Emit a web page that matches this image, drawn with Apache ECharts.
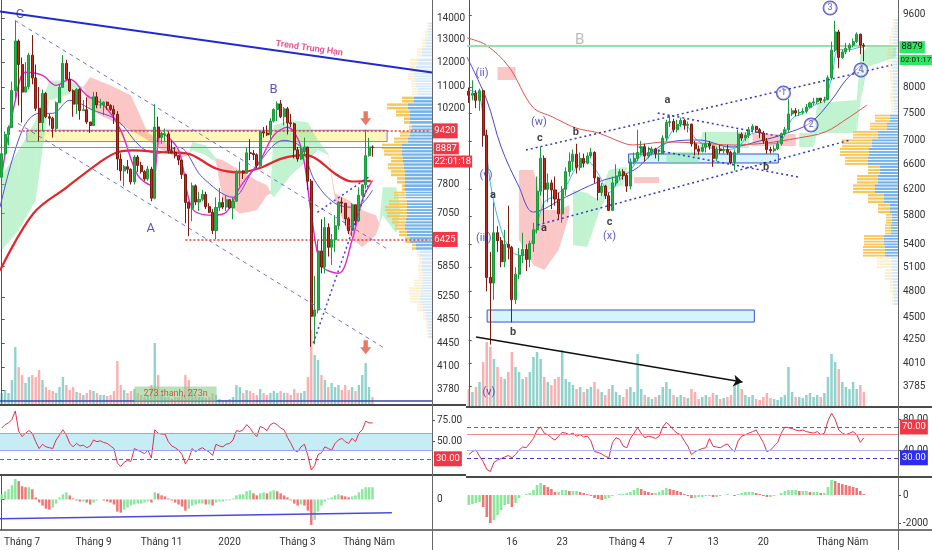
<!DOCTYPE html>
<html><head><meta charset="utf-8">
<script src="https://cdn.jsdelivr.net/npm/echarts@6/dist/echarts.min.js"></script>
<style>html,body{margin:0;padding:0;background:#fff}#c{width:932px;height:550px}</style>
</head><body><div id="c"></div>
<script>
// ================= DATA =================
// Left chart: 3-day BTC bars starting 2019-06-12  [open, close, low, high]
const leftStart = '2019-06-12';
const leftOHLC = [
[8000,8690,7950,8900],[8690,9300,8650,9400],[9300,9530,8950,9600],[9530,10860,9530,11200],[10860,12930,10500,13880],
[12930,11900,10300,13000],[11900,10800,9700,12200],[10800,11000,10800,12000],[11000,12300,10900,12400],[12300,11350,11100,13200],
[11350,10200,10100,11900],[10200,9700,9080,11000],[9700,10750,9400,10900],[10750,9900,9850,10800],[9900,9850,9600,10000],
[9850,9500,9200,9900],[9500,10400,9400,10450],[10400,10980,10400,11100],[10980,11950,10980,12300],[11950,11300,11300,12100],
[11300,10850,10800,11600],[10850,10350,9900,10900],[10350,10900,10000,10950],[10900,10120,9800,10950],[10120,10150,10100,10500],
[10150,9720,9650,10600],[9720,9600,9350,9700],[9600,10620,9600,10800],[10620,10320,10200,10800],[10320,10320,10200,10550],
[10320,10420,9950,10450],[10420,10300,10150,10450],[10300,10160,10100,10350],[10160,9990,9650,10300],[9990,8530,8200,10100],
[8530,8180,7900,8700],[8180,8300,7750,8350],[8300,8230,8100,8500],[8230,7870,7800,8250],[7870,8590,7800,8650],
[8590,8340,8150,8650],[8340,8160,8100,8450],[8160,7950,7900,8200],[7950,8230,7900,8320],[8230,7430,7350,8300],
[7430,9550,7400,10350],[9550,9200,9050,9900],[9200,9300,9000,9400],[9300,9320,9050,9500],[9320,8780,8700,9400],
[8780,8730,8700,9100],[8730,8630,8550,8900],[8630,8500,8350,8650],[8500,8080,7950,8500],[8080,7320,6800,8100],
[7320,7170,6500,7350],[7170,7760,6850,7850],[7760,7330,7250,7800],[7330,7400,7100,7600],[7400,7530,7350,7650],
[7530,7210,7150,7600],[7210,7070,7050,7300],[7070,6630,6550,7150],[6630,7190,6430,7450],[7190,7320,7100,7700],
[7320,7200,7150,7450],[7200,7390,7100,7500],[7390,7180,7150,7400],[7180,7350,6900,7450],[7350,8160,7350,8200],
[8160,8180,7750,8450],[8180,8110,7950,8200],[8110,8720,8100,8880],[8720,8700,8500,9150],[8700,8660,8500,8800],
[8660,8330,8250,8700],[8330,9390,8300,9400],[9390,9350,9200,9550],[9350,9290,9250,9600],[9290,9750,9150,9850],
[9750,10160,9700,10200],[10160,10360,9750,10450],[10360,9900,9850,10500],[9900,10180,9600,10250],[10180,9690,9300,10250],
[9690,9660,9550,10000],[9660,8810,8550,9700],[8810,8530,8450,8900],[8530,8760,8500,8950],[8760,8900,8700,9200],
[8900,7890,7650,8900],[7890,4900,4400,7950],[4900,5010,4440,5650],[5010,6170,4950,6400],[6170,5830,5700,6900],
[5830,6700,5700,6950],[6700,6250,6050,6800],[6250,6420,5870,6550],[6420,6740,6150,7000],[6740,7330,6650,7350],
[7330,7300,7050,7450],[7300,6910,6750,7300],[6910,6630,6550,6950],[6630,7260,6500,7300],[7260,6860,6750,7250],
[6860,7510,6830,7720],[7510,7790,7450,7800],[7790,8630,7680,9460],[8630,8900,8600,9190],[8900,8887,8600,8950]
];
const leftVolume = [12,15,12,25,58,38,30,22,28,30, 28,35,25,18,15,14,12,18,28,20, 15,18,13,12,10,12,15,14,12,10,
 10,9,10,14,44,20,15,12,14,16, 12,10,8,10,20,62,30,10,8,8, 6,8,8,10,30,25,15,10,8,8,
 7,8,12,10,6,5,5,6,8,20, 18,12,15,14,12,10,16,12,10,12, 14,12,14,12,12,10,16,12,12,14,
 28,75,50,45,30,25,18,22,18,20, 15,20,15,18,14,20,30,42,18,8];
const leftRSI = [66,70,72,76,86,62,56,60,63,60, 50,42,47,44,43,42,52,58,64,58, 48,44,48,45,46,43,45,52,50,51,
 49,48,45,42,25,21,26,28,27,42, 40,38,36,40,31,64,60,59,59,50, 45,43,40,35,24,30,42,38,41,43,
 40,38,34,47,45,44,47,48,52,63, 62,64,70,66,60,56,68,66,63,70, 72,70,66,64,55,48,40,38,44,47,
 34,17,22,35,37,44,42,40,48,52, 54,50,48,54,50,60,64,74,72,72];
const leftMACD = [200,320,400,560,800,720,520,480,480,400, 80,-120,-240,-360,-400,-320,-160,80,200,280,
 160,40,-40,-80,-80,-120,-200,-120,-40,0, -40,-80,-120,-200,-480,-520,-400,-320,-240,-200,
 -160,-160,-120,-80,-120,280,240,160,120,40, -40,-120,-200,-280,-440,-360,-240,-200,-160,-160,
 -200,-200,-240,-120,-80,-80,-40,-40,40,160, 200,200,320,360,240,160,240,280,240,320,
 360,320,240,160,80,-40,-160,-240,-200,-240, -440,-1000,-800,-480,-240,-80,40,80,160,200,
 160,120,80,120,160,280,400,480,480,480];
// moving averages: [barIndex, price]
const leftMASlow = [[-0.5,5760],[9.3,7040],[19.1,7721],[28.8,8432],[33.8,8730],[38.5,8796],[48.4,8730],[54.3,8704],[63,8250],[69.9,8138],[75.7,8255],[82.5,8551],[89.5,8645],[93,8500],[98,8100],[103,7880],[108.5,7900]];
const leftMAMid = [[-0.5,7196],[6,9437],[11,10020],[15,10020],[20,10490],[27,10126],[34,9776],[41,8890],[46,8704],[52,8890],[59,7998],[68,7455],[74,8198],[83,9111],[88,8890],[92,7910],[98,7298],[104,7196],[109,7641]];
const leftMAFast = [[0,8054],[4,10490],[7,11578],[12,11453],[16,11057],[20,11300],[25,10675],[30,10307],[35,9437],[40,8054],[44,7776],[47,9338],[52,8796],[56,7171],[62,6996],[66,7070],[70,7721],[76,8491],[80,9274],[84,9538],[88,8890],[91,7040],[94,5868],[99,5704],[103,6406],[106,7377],[109,7910]];
// cloud segments: [barIndex, upper, lower]
const leftCloud = [
 {c:'g', pts:[[0,8054,6185],[5,8796,6636],[10,9776,7377],[14,11254,10490],[19,11254,10675],[24,11000,10950]]},
 {c:'r', pts:[[24,11000,10950],[26,11374,10126],[32,11057,9776],[38,10675,9437],[43,9338,9111],[47,9111,8796],[52,8796,8551],[55,8700,8650]]},
 {c:'g', pts:[[55,8700,8650],[56,9047,8796],[60,8952,8642],[63,8551,8432]]},
 {c:'r', pts:[[63,8551,8432],[65,8491,7377],[70,8198,7040],[75,7910,7122],[78,7776,7508],[79,7600,7550]]},
 {c:'g', pts:[[79,7600,7550],[80,9606,7455],[85,9776,8054],[90,9708,8491],[93,9111,8796],[96,8700,8650]]},
 {c:'r', pts:[[96,8700,8650],[98,7560,7377],[102,7377,6521],[106,7122,6251],[110,6996,6521],[111,6800,6750]]},
 {c:'g', pts:[[111,6800,6750],[112,7721,6996],[116,7721,6566],[117,7300,7000]]}
];
const leftVPPrice = [13600,13200,12800,12400,12000,11700,11400,11100,10800,10500,10250,10000,9750,9500,9300,9100,8900,8700,8500,8300,8100,7900,7700,7500,7300,7150,7000,6850,6700,6550,6400,6250,6100,5950,5800,5650,5500,5350,5200,5050,4900,4750,4600];
const leftVPBuy = [3,4,6,10,14,16,18,16,14,18,24,22,22,20,22,24,30,30,29,28,27,27,27,26,25,25,25,26,27,25,22,16,12,10,10,9,10,11,12,9,6,4,3];
const leftVPSell = [2,3,4,5,8,6,6,5,6,12,21,14,6,3,10,14,20,18,12,16,14,8,3,12,18,22,20,14,10,8,5,4,3,3,4,4,8,12,10,6,3,2,2];
const leftPriceTicks = [14000,13000,12000,11000,10200,7800,7050,5850,5250,4850,4450,4100,3780];
const leftTimeTicks = [['2019-07-01','Tháng 7'],['2019-09-01','Tháng 9'],['2019-11-01','Tháng 11'],['2020-01-01','2020'],['2020-03-01','Tháng 3'],['2020-05-01','Tháng Năm']];

// Right chart: 12-hour bars starting 2020-03-10
const rightStart = '2020-03-10';
const rightOHLC = [
[7930,7850,7700,8000],[7850,7890,7750,8150],[7890,7750,7600,7950],[7750,7940,7550,7980],[7940,7100,6900,7960],
[7100,4970,4800,7200],[4970,4900,4200,5300],[4900,5560,4700,6000],[5560,5450,5300,5650],[5450,5170,5100,5500],
[5170,5400,5100,5600],[5400,5360,5200,5950],[5360,4700,4440,5380],[4700,5010,4650,5100],[5010,5250,4950,5350],
[5250,5330,5150,5560],[5330,5200,5050,5400],[5200,5410,5100,5450],[5410,5600,5300,5700],[5600,6170,5550,6400],
[6170,6700,6100,6900],[6700,6200,5700,6750],[6200,6300,6000,6450],[6300,6190,5900,6350],[6190,6050,5950,6400],
[6050,5830,5750,6150],[5830,6200,5700,6250],[6200,6480,6100,6550],[6480,6650,6400,6800],[6650,6770,6500,6850],
[6770,6550,6450,6950],[6550,6700,6500,6800],[6700,6620,6550,6780],[6620,6740,6600,6800],[6740,6800,6700,6880],
[6800,6380,6300,6820],[6380,6150,6030,6400],[6150,6250,6100,6300],[6250,6100,6050,6270],[6100,5880,5870,6150],
[5880,6300,5880,6400],[6300,6410,6250,6600],[6410,6480,6350,6520],[6480,6420,6350,6520],[6420,6250,6160,6450],
[6250,6640,6200,6700],[6640,6700,6600,6800],[6700,6800,6650,7200],[6800,6900,6750,7000],[6900,6740,6650,6950],
[6740,6800,6700,6900],[6800,6860,6750,6900],[6860,6780,6700,6880],[6780,6780,6650,6850],[6780,7050,6770,7100],
[7050,7330,7000,7380],[7330,7350,7250,7460],[7350,7200,7150,7400],[7200,7300,7150,7380],[7300,7370,7250,7420],
[7370,7280,7200,7400],[7280,7300,7150,7350],[7300,6950,6900,7310],[6950,6860,6750,7000],[6860,6820,6760,6920],
[6820,6890,6800,6950],[6890,6950,6800,7150],[6950,6910,6850,7000],[6910,6700,6560,6920],[6700,6860,6650,6900],
[6860,6830,6780,6930],[6830,6850,6780,6900],[6850,6800,6760,6930],[6800,6630,6600,6830],[6630,6800,6500,6850],
[6800,7120,6780,7200],[7120,7050,7000,7150],[7050,7100,7000,7150],[7100,7200,7050,7250],[7200,7260,7150,7300],
[7260,7200,7150,7270],[7200,7140,7050,7230],[7140,7000,6950,7180],[7000,6850,6780,7050],[6850,6830,6780,6900],
[6830,6860,6800,6920],[6860,6950,6840,7000],[6950,7130,6920,7150],[7130,7200,7100,7250],[7200,7490,7150,7770],
[7490,7550,7450,7600],[7550,7510,7450,7600],[7510,7520,7450,7580],[7520,7540,7480,7600],[7540,7620,7500,7680],
[7620,7700,7600,7720],[7700,7720,7650,7800],[7720,7790,7680,7800],[7790,7750,7700,7800],[7750,7760,7700,7820],
[7760,8200,7750,8250],[8200,8790,8150,8980],[8790,9200,8750,9460],[9200,8630,8400,9250],[8630,8750,8600,8800],
[8750,8830,8700,8950],[8830,8900,8750,8950],[8900,8980,8850,9050],[8980,9150,8950,9190],[9150,8900,8700,9160],
[8900,8879,8550,8950]
];
const rightVolume = [18,15,20,25,45,65,60,48,40,30, 28,35,55,40,35,28,30,35,50,55, 48,30,25,22,28,30,57,28,25,22,
 18,20,15,18,20,25,18,15,12,18, 22,15,12,10,18,20,15,53,18,12, 10,8,10,12,20,25,18,12,10,12,
 10,9,18,15,8,10,12,10,14,12, 8,9,10,12,22,25,18,12,10,12, 8,7,10,14,9,8,7,10,12,40,
 15,10,10,9,12,14,10,12,10,14, 30,53,45,38,25,20,18,25,18,22, 15];
const rightRSI = [34,38,40,32,25,15,12,24,27,29, 31,33,30,34,40,44,43,49,55,66, 70,62,60,56,53,58,63,62,60,62,
 58,60,57,58,52,38,37,35,32,30, 50,56,54,45,43,55,62,69,62,56, 58,57,55,58,70,76,72,66,62,60,
 52,45,34,38,40,42,43,55,45,44, 43,46,48,42,38,52,58,60,62,64, 66,58,50,38,40,45,50,62,70,69,
 68,66,65,66,64,63,62,64,60,62, 78,88,80,66,62,60,62,64,60,50, 56];
const rightMACD = [-700,-630,-560,-490,-840,-1540,-1960,-1750,-1400,-1050, -700,-630,-840,-560,-210,0,70,140,350,700,
 840,700,560,420,210,210,350,350,280,280, 280,210,140,70,-70,-210,-280,-350,-280,-210,
 -70,0,70,70,140,210,350,490,420,280, 210,140,140,210,350,490,420,350,280,210,
 70,-70,-210,-210,-140,-140,-70,-70,-140,-140, -70,0,70,0,-70,70,140,210,210,210,
 140,70,-70,-140,-140,-70,0,140,280,350, 350,350,280,280,280,210,210,210,140,140,
 560,1050,980,840,770,700,630,560,490,280, 70];
const rightMASlow = [[-0.5,9063],[4.8,8904],[11.2,8426],[17.8,7621],[23.4,7432],[29.8,7231],[36.2,7140],[40.9,7016],[45.6,6929],[54.8,6981],[64,6963],[73.4,6929],[82.6,6963],[91.7,7051],[99.2,7159],[105.6,7414],[110.9,7660]];
const rightMAMid = [[-0.5,8640],[5,7757],[9,6894],[14,6235],[18,5856],[27,6081],[36,6314],[46,6507],[55,6963],[64,7016],[73,6894],[82,7016],[87,7104],[95,7321],[101,7757],[105,8155],[110,8511]];
const rightMAFast = [[0,7950],[3,7850],[6,6300],[9,5600],[12,5300],[15,5250],[18,5500],[21,6000],[24,6100],[27,6250],[30,6550],[33,6650],[36,6450],[39,6150],[42,6350],[45,6500],[48,6750],[51,6800],[54,6900],[57,7200],[60,7300],[63,7050],[66,6920],[69,6850],[72,6850],[75,6900],[78,7100],[81,7150],[84,6950],[87,7000],[90,7400],[93,7500],[96,7650],[99,7750],[101,8200],[103,8800],[106,8800],[109,8850],[110,8850]];
const rightCloud = [
 {c:'r', pts:[[8,8426,8155],[13,8426,8155]]},
 {c:'r', pts:[[14,6507,5459],[18,6507,5127],[21,5886,5063],[25,5886,5323],[28,5960,5812]]},
 {c:'g', pts:[[29,6189,5391],[33,6142,5365],[36,6035,5812],[39,6507,6189],[43,6557,6267],[44,6550,6450]]},
 {c:'r', pts:[[46,6394,6297],[53,6394,6297]]},
 {c:'g', pts:[[55,6808,6623],[64,6808,6623],[65,7159,6877],[78,7159,6877]]},
 {c:'r', pts:[[79,7122,6911],[91,7122,6911]]},
 {c:'g', pts:[[92,7140,6894],[96,7140,6894],[97,7698,7140],[108,7757,7140],[109,8683,7698],[111,8859,8426],[119,8859,8640]]}
];
const rightVPPrice = [9400,9200,9000,8800,8600,8400,8200,8000,7800,7600,7400,7250,7100,6950,6800,6650,6500,6350,6200,6050,5900,5750,5600,5450,5300,5150,5000,4850,4700];
const rightVPBuy = [3,4,5,5,6,6,5,5,5,4,8,11,20,26,29,30,18,20,23,14,8,6,7,14,13,7,6,5,4];
const rightVPSell = [2,3,4,5,5,4,3,2,3,3,15,17,25,30,29,23,12,21,22,16,12,6,6,20,22,14,7,3,2];
const rightPriceTicks = [9600,8000,7500,7000,6600,6200,5800,5400,5100,4800,4500,4250,4010,3785];
const rightTimeTicks = [['2020-03-16','16'],['2020-03-23','23'],['2020-04-01','Tháng 4'],['2020-04-07','7'],['2020-04-13','13'],['2020-04-20','20'],['2020-05-01','Tháng Năm']];

// drawings: [barIndex, price] endpoints
const leftTrend = [[-0.5,14349],[126.5,11575]];
const leftChanUp = [[3.9,13902],[113,6229]];
const leftChanDn = [[4.8,9674],[113,4365]];
const leftDotSteep = [[91.6,4458],[108,7858]];
const leftDotFlat = [[92.8,7070],[108.6,8054]];
const leftZone = [[7.4,9440],[113.3,9070]];
const leftMacdTrend = [[-0.5,-760],[114.7,-520]];
const leftTexts = [['C',5.4,14199],['A',43.8,6660],['B',79.9,10903]];
const leftArrows = [[107,9845],[107,4396]];
const rightBox1 = [[5.1,4580],[79.5,4444]];
const rightBox2 = [[44.5,6774],[86.2,6623]];
const rightChanUp = [[15.9,6842],[117.8,8468]];
const rightChanDn = [[19.2,5669],[106.2,7016]];
const rightDot1 = [[52.6,7507],[87.3,7069]];
const rightDot2 = [[47.3,6894],[91.7,6394]];
const rightArrow = [[2,4280],[76.2,3823]];
const rightWaveTexts = [['(ii)',3.7,8300],['(w)',19.5,7340],['(v)',4.8,6426],['(iii)',4.2,5486],['(x)',39.2,5514],['(v)',5.6,3729]];
const rightLetterTexts = [['c',19.8,7051],['a',6.7,6111],['a',20.9,5626],['b',29.8,7159],['c',39.2,5712],['a',55.3,7757],['b',82.8,6557],['b',12.3,4333]];
const rightCircled = [['1',87.6,7894],['2',95.3,7285],['3',100.6,9770],['4',109.2,8363]];

// ================= BUILD =================
const FONT = "'Roboto','DejaVu Sans',sans-serif";
const DAY = 86400000;
const NL = 127, NR = 120;
function cats(start, step, n){ const t0=Date.parse(start+'T00:00:00Z'); const a=[]; for(let i=0;i<n;i++){a.push(new Date(t0+i*step).toISOString().slice(0,16));} return a; }
function lmap(start, step, ticks){ const t0=Date.parse(start+'T00:00:00Z'); const m={}; ticks.forEach(t=>{m[Math.floor((Date.parse(t[0]+'T00:00:00Z')-t0)/step)]=t[1];}); return m; }
const leftCats = cats(leftStart, 3*DAY, NL), rightCats = cats(rightStart, DAY/2, NR);
const leftLM = lmap(leftStart, 3*DAY, leftTimeTicks), rightLM = lmap(rightStart, DAY/2, rightTimeTicks);

const UP='#23b24a', DN='#c4291c', UPB='#1a9a3c', DNB='#7d1a10';
const VUP='rgba(38,166,154,0.5)', VDN='rgba(239,83,80,0.45)';
const HG='#8ae89c', HR='#f07575';
const AX='#333', AXL='#555';

function catAxis(gi, c, show, lm){
  return {type:'category', gridIndex:gi, data:c, boundaryGap:true, axisLine:{show:false}, axisTick:{show:false}, splitLine:{show:false},
    axisLabel: show ? {show:true, interval:(i)=>lm[i]!==undefined, formatter:(v,i)=>lm[i]||'', color:AX, fontSize:10, margin:7, fontFamily:FONT} : {show:false}};
}
function valAxis(gi, n){ return {type:'value', gridIndex:gi, min:-0.5, max:n-0.5, show:false, splitLine:{show:false}}; }
function vpAxis(gi, w){ return {type:'value', gridIndex:gi, min:0, max:w, inverse:true, show:false, splitLine:{show:false}}; }
function priceAxis(gi, mn, mx, ticks){
  return {type:'log', logBase:10, gridIndex:gi, position:'right', min:mn, max:mx, splitLine:{show:false},
    axisLine:{show:true, lineStyle:{color:AXL}}, axisTick:{show:true, customValues:ticks, length:3, lineStyle:{color:AXL}},
    axisLabel:{show:true, customValues:ticks, formatter:v=>String(Math.round(v)), color:AX, fontSize:10, margin:5, fontFamily:FONT}};
}
function plainAxis(gi, mn, mx, ticks, fmt){
  return {type:'value', gridIndex:gi, position:'right', min:mn, max:mx, splitLine:{show:false},
    axisLine:{show:true, lineStyle:{color:AXL}}, axisTick:{show:true, customValues:ticks, length:3, lineStyle:{color:AXL}},
    axisLabel:{show:true, customValues:ticks, formatter:fmt, color:AX, fontSize:10, margin:5, fontFamily:FONT}};
}
function hiddenAxis(gi, mn, mx){ return {type:'value', gridIndex:gi, min:mn, max:mx, show:false, splitLine:{show:false}}; }

function boxLabel(t, bg, fg){ return {show:true, position:'end', distance:2, formatter:t, backgroundColor:bg, color:fg||'#fff', padding:[2,2,1,2], fontSize:9.5, lineHeight:12, fontFamily:FONT}; }
function twoBox(a, b, bg, fg, fs){
  const tok = {backgroundColor:bg, color:fg, padding:[1,2], fontSize:9.5, lineHeight:13, fontFamily:FONT};
  const tokB = Object.assign({}, tok, {fontSize: fs || 9.5, padding:[1,1]});
  return {show:true, position:'end', distance:1.5, formatter:'{e|}\n{a|'+a+'}\n{b|'+b+'}', rich:{e:{lineHeight:15, fontSize:9}, a:tok, b:tokB}};
}
function lineS(xi, yi, data, color, width, z, type, smooth){
  return {type:'line', xAxisIndex:xi, yAxisIndex:yi, data, symbol:'none', smooth: smooth===undefined?0.35:smooth, z, silent:true,
    lineStyle:{color, width, type:type||'solid'}};
}
function cloudS(segs, xi, yi){
  const data=[];
  segs.forEach(s=>{ for(let k=0;k<s.pts.length-1;k++){ const a=s.pts[k], b=s.pts[k+1]; data.push([a[0],a[1],a[2],b[0],b[1],b[2], s.c==='g'?1:0]); } });
  return {type:'custom', xAxisIndex:xi, yAxisIndex:yi, z:1, silent:true, data, encode:{x:[0,3], y:[1,2]},
    renderItem(p, api){
      const p1=api.coord([api.value(0),api.value(1)]), p2=api.coord([api.value(3),api.value(4)]),
            p3=api.coord([api.value(3),api.value(5)]), p4=api.coord([api.value(0),api.value(2)]);
      return {type:'polygon', shape:{points:[p1,p2,p3,p4]}, style:{fill: api.value(6)?'rgba(120,228,150,0.45)':'rgba(244,128,128,0.45)', stroke:null}};
    }};
}
function vpS(prices, buy, sell, lo, hi, xi, yi){
  const data = prices.map((p,i)=>[buy[i], sell[i], p, i<prices.length-1?prices[i+1]:prices[i-1]]);
  return {type:'custom', xAxisIndex:xi, yAxisIndex:yi, z:1, silent:true, data, encode:{x:0, y:2},
    renderItem(params, api){
      const b=api.value(0), s=api.value(1), p=api.value(2), q=api.value(3);
      const c0=api.coord([0,p]), c1=api.coord([b,p]), c2=api.coord([b+s,p]);
      const h=Math.abs(api.coord([0,q])[1]-c0[1]);
      const sat = p>=lo && p<=hi;
      const fb = sat?'#74b3ea':'rgba(116,179,234,0.3)', fy = sat?'#f8c75a':'rgba(248,199,90,0.3)';
      const n = Math.max(1, Math.round(h/3)), step = h/n, top = c0[1]-h/2;
      const ch = [];
      for (let k=0;k<n;k++){
        const y = top + k*step;
        ch.push({type:'rect', shape:{x:c1[0], y, width:c0[0]-c1[0], height:step-1}, style:{fill:fb}});
        ch.push({type:'rect', shape:{x:c2[0], y, width:c1[0]-c2[0], height:step-1}, style:{fill:fy}});
      }
      return {type:'group', children:ch};
    }};
}
function textS(xi, yi, items, lab){
  return {type:'scatter', xAxisIndex:xi, yAxisIndex:yi, z:8, silent:true, symbolSize:1, itemStyle:{color:'rgba(0,0,0,0)'},
    data: items.map(t=>({value:[t[1],t[2]], label:{formatter:t[0]}})),
    label: Object.assign({show:true, position:'inside', fontFamily:FONT}, lab)};
}
function volData(vol, ohlc){ return vol.map((v,i)=>({value:v, itemStyle:{color: ohlc[i][1]>=ohlc[i][0]?VUP:VDN}})); }
function histData(h){ return h.map((v,i)=>({value:v, itemStyle:{color:(i>0 && v<h[i-1])?HR:HG}})); }

const series = [
  // ---------- LEFT ----------
  cloudS(leftCloud, 1, 0),
  vpS(leftVPPrice, leftVPBuy, leftVPSell, 6250, 10500, 2, 0),
  {type:'bar', xAxisIndex:0, yAxisIndex:1, z:2, silent:true, barWidth:'70%', data:volData(leftVolume, leftOHLC)},
  Object.assign(lineS(1,0,leftMAMid,'#5a4fd8',1,3), {markArea:{silent:true, itemStyle:{color:'rgba(255,238,128,0.55)', borderColor:'#8c7bd0', borderWidth:1},
     data:[[{coord:leftZone[0]},{coord:leftZone[1]}]]}}),
  lineS(1,0,leftMASlow,'#e3262b',2.2,3),
  lineS(1,0,leftMAFast,'#e326cf',1.4,3),
  {type:'candlestick', xAxisIndex:0, yAxisIndex:0, z:5, silent:true, data:leftOHLC, barWidth:'74%',
    itemStyle:{color:UP, color0:DN, borderColor:UPB, borderColor0:DNB, borderWidth:1},
    markLine:{silent:true, symbol:['none','none'], animation:false, data:[
      [{coord:[5,9420], lineStyle:{color:'#e53935', type:[2,2], width:1.5}, label:boxLabel('9420','#f23645')},{coord:[126,9420]}],
      {yAxis:8887, lineStyle:{color:'#ef6a6a', type:'solid', width:1}, label:twoBox('8887','22:01:18','#f23645','#fff')},
      [{coord:[54,6425], lineStyle:{color:'#e53935', type:[2,2], width:1.5}, label:boxLabel('6425','#f23645')},{coord:[126,6425]}],
      {yAxis:3634, lineStyle:{color:'#3949ab', width:1.5, type:'solid'}, label:{show:false}}
    ]}},
  lineS(1,0,leftTrend,'#1f2bd0',2,6,'solid',false),
  lineS(1,0,leftChanUp,'#6a70d8',1,6,[4,4],false),
  lineS(1,0,leftChanDn,'#6a70d8',1,6,[4,4],false),
  lineS(1,0,leftDotSteep,'#4b3fd6',1.5,6,[2,3],false),
  lineS(1,0,leftDotFlat,'#4b3fd6',1.5,6,[2,3],false),
  textS(1,0,leftTexts,{color:'#2c2ca6', fontSize:13}),
  textS(1,0,[['Trend Trung Hạn',90.4,12597]],{color:'#e0307a', fontSize:9, fontWeight:'bold', rotate:-8}),
  textS(1,0,[['273 thanh, 273n',51.1,3726]],{color:'#c0392b', fontSize:9, backgroundColor:'rgba(140,205,140,0.75)', padding:[3,9]}),
  {type:'scatter', xAxisIndex:1, yAxisIndex:0, z:8, silent:true, data:leftArrows, symbol:'path://M3,0 H7 V6 H10 L5,12 L0,6 H3 Z', symbolSize:[11,14], itemStyle:{color:'#e2583e'}},
  {type:'line', xAxisIndex:3, yAxisIndex:2, data:leftRSI, symbol:'none', z:3, silent:true, lineStyle:{color:'#dd3150', width:1},
    markArea:{silent:true, itemStyle:{color:'#c6ecf6'}, data:[[{yAxis:40},{yAxis:60}]]},
    markLine:{silent:true, symbol:['none','none'], data:[
      {yAxis:60, lineStyle:{color:'#f08a8a', width:1, type:'solid'}, label:{show:false}},
      {yAxis:40, lineStyle:{color:'#9fa3e6', width:1, type:'solid'}, label:{show:false}},
      {yAxis:30, lineStyle:{color:'#e53935', width:1.2, type:[4,3]}, label:boxLabel('30.00','#f23645')}
    ]}},
  {type:'bar', xAxisIndex:4, yAxisIndex:3, z:2, silent:true, barWidth:'72%', data:histData(leftMACD)},
  lineS(5,3,leftMacdTrend,'#4a4ae0',1.5,4,'solid',false),

  // ---------- RIGHT ----------
  cloudS(rightCloud, 7, 4),
  vpS(rightVPPrice, rightVPBuy, rightVPSell, 5300, 7400, 8, 4),
  {type:'bar', xAxisIndex:6, yAxisIndex:5, z:2, silent:true, barWidth:'70%', data:volData(rightVolume, rightOHLC)},
  Object.assign(lineS(7,4,rightMAMid,'#4b47cc',1,3), {markArea:{silent:true, itemStyle:{color:'rgba(200,240,250,0.75)', borderColor:'#3f51c5', borderWidth:1},
     data:[[{coord:rightBox1[0]},{coord:rightBox1[1]}],[{coord:rightBox2[0]},{coord:rightBox2[1]}]]}}),
  lineS(7,4,rightMASlow,'#e05252',1,3),
  lineS(7,4,rightMAFast,'#3fb6e8',1,3),
  {type:'candlestick', xAxisIndex:6, yAxisIndex:4, z:5, silent:true, data:rightOHLC, barWidth:'70%',
    itemStyle:{color:UP, color0:DN, borderColor:UPB, borderColor0:DNB, borderWidth:1},
    markLine:{silent:true, symbol:['none','none'], animation:false, data:[
      {yAxis:8879, lineStyle:{color:'#93e3a8', type:'solid', width:2}, label:twoBox('8879','02:01:17','#2ee862','#111', 8)}
    ]}},
  lineS(7,4,rightChanUp,'#3535c8',1.5,6,[2,3],false),
  lineS(7,4,rightChanDn,'#3535c8',1.5,6,[2,3],false),
  lineS(7,4,rightDot1,'#3535c8',1.5,6,[2,3],false),
  lineS(7,4,rightDot2,'#3535c8',1.5,6,[2,3],false),
  {type:'lines', coordinateSystem:'cartesian2d', xAxisIndex:7, yAxisIndex:4, z:6, silent:true, symbol:['none','arrow'], symbolSize:9,
    lineStyle:{color:'#111', width:1.5, opacity:1}, data:[{coords:rightArrow}]},
  textS(7,4,[['B',30.9,9016]],{color:'#aaaaaa', fontSize:15}),
  textS(7,4,rightWaveTexts,{color:'#3030b0', fontSize:11}),
  textS(7,4,rightLetterTexts,{color:'#111', fontSize:11, fontWeight:'bold'}),
  textS(7,4,rightCircled,{color:'#3030b0', fontSize:9, borderColor:'#3030b0', borderWidth:1, borderRadius:8, padding:[2,4], backgroundColor:'rgba(255,255,255,0.6)'}),
  {type:'line', xAxisIndex:9, yAxisIndex:6, data:rightRSI, symbol:'none', z:3, silent:true, lineStyle:{color:'#dd3150', width:1},
    markLine:{silent:true, symbol:['none','none'], data:[
      {yAxis:60, lineStyle:{color:'#f08a8a', width:1, type:'solid'}, label:{show:false}},
      {yAxis:40, lineStyle:{color:'#b0b4f0', width:1, type:'solid'}, label:{show:false}},
      {yAxis:70, lineStyle:{color:'#e53935', width:1.2, type:[4,3]}, label:boxLabel('70.00','#f23645')},
      {yAxis:30, lineStyle:{color:'#3b3bd0', width:1.2, type:[4,3]}, label:boxLabel('30.00','#2c2cf0')}
    ]}},
  {type:'bar', xAxisIndex:10, yAxisIndex:7, z:2, silent:true, barWidth:'72%', data:histData(rightMACD)}
];

const sepL = '#4a4a4a';
const option = {
  animation:false,
  textStyle:{fontFamily:FONT},
  grid:[
    {left:0, top:0, width:432, height:405},
    {left:0, top:405, width:432, height:70},
    {left:0, top:475, width:432, height:55},
    {left:467, top:0, width:431, height:407},
    {left:467, top:407, width:431, height:70},
    {left:467, top:477, width:431, height:53}
  ].map(g=>Object.assign({outerBoundsMode:'none', containLabel:false, show:false}, g)),
  xAxis:[
    catAxis(0,leftCats,false), valAxis(0,NL), vpAxis(0,432), catAxis(1,leftCats,false), catAxis(2,leftCats,true,leftLM), valAxis(2,NL),
    catAxis(3,rightCats,false), valAxis(3,NR), vpAxis(3,431), catAxis(4,rightCats,false), catAxis(5,rightCats,true,rightLM)
  ],
  yAxis:[
    priceAxis(0,3585,14939,leftPriceTicks), hiddenAxis(0,0,405),
    plainAxis(1,11,93,[75,50],v=>v.toFixed(2)), plainAxis(2,-1200,960,[0],v=>String(v)),
    priceAxis(3,3591,9968,rightPriceTicks), hiddenAxis(3,0,407),
    plainAxis(4,5,96,[80,40],v=>v.toFixed(2)), plainAxis(5,-2450,1260,[0,-2000],v=>String(v))
  ],
  series,
  graphic:[
    {type:'line', z:100, silent:true, shape:{x1:0,y1:405,x2:466,y2:405}, style:{stroke:sepL, lineWidth:2}},
    {type:'line', z:100, silent:true, shape:{x1:0,y1:475,x2:466,y2:475}, style:{stroke:sepL, lineWidth:2}},
    {type:'line', z:100, silent:true, shape:{x1:0,y1:530,x2:466,y2:530}, style:{stroke:sepL, lineWidth:1.5}},
    {type:'line', z:100, silent:true, shape:{x1:466,y1:407,x2:932,y2:407}, style:{stroke:sepL, lineWidth:2}},
    {type:'line', z:100, silent:true, shape:{x1:466,y1:477,x2:932,y2:477}, style:{stroke:sepL, lineWidth:2}},
    {type:'line', z:100, silent:true, shape:{x1:466,y1:530,x2:932,y2:530}, style:{stroke:sepL, lineWidth:1.5}},
    {type:'line', z:100, silent:true, shape:{x1:432.5,y1:0,x2:432.5,y2:550}, style:{stroke:'#666', lineWidth:1}},
    {type:'line', z:100, silent:true, shape:{x1:898.5,y1:0,x2:898.5,y2:550}, style:{stroke:'#666', lineWidth:1}}
  ]
};
const chart = echarts.init(document.getElementById('c'), null, {renderer:'canvas'});
chart.setOption(option);
</script>
</body></html>
